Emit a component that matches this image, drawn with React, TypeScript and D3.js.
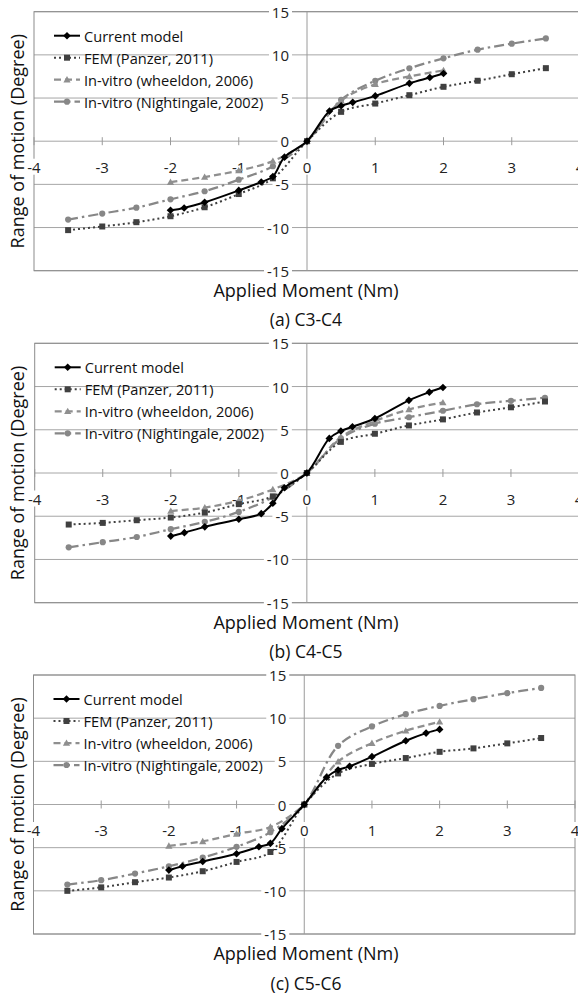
import React from "react";
import * as d3 from "d3";

// ---- data ----
const xCurrent = [-2, -1.8, -1.5, -1, -0.67, -0.5, -0.33, 0, 0.33, 0.5, 0.67, 1, 1.5, 1.8, 2];
const xFem = [-3.5, -3, -2.5, -2, -1.5, -1, -0.5, 0, 0.5, 1, 1.5, 2, 2.5, 3, 3.5];
const xWheeldon = [-2, -1.5, -1, -0.5, 0, 0.5, 1, 1.5, 2];
const xNightingale = [-3.5, -3, -2.5, -2, -1.5, -1, -0.5, 0, 0.5, 1, 1.5, 2, 2.5, 3, 3.5];

const currentA = [-8.0, -7.73, -7.08, -5.7, -4.73, -4.1, -1.85, 0, 3.5, 4.1, 4.5, 5.25, 6.7, 7.37, 7.84];
const femA = [-10.3, -9.88, -9.38, -8.69, -7.65, -6.12, -4.3, 0, 3.4, 4.36, 5.33, 6.3, 7.0, 7.76, 8.46];
const wheeldonA = [-4.75, -4.15, -3.4, -2.3, 0, 4.7, 6.6, 7.5, 8.2];
const nightingaleA = [-9.08, -8.38, -7.7, -6.73, -5.8, -4.46, -2.9, 0, 4.8, 7.0, 8.45, 9.6, 10.6, 11.3, 11.9];

const currentB = [-7.3, -6.9, -6.23, -5.35, -4.7, -3.5, -1.7, 0, 4.0, 4.85, 5.35, 6.3, 8.4, 9.35, 9.88];
const femB = [-5.96, -5.77, -5.46, -5.15, -4.58, -3.6, -2.7, 0, 3.6, 4.54, 5.5, 6.2, 7.0, 7.6, 8.27];
const wheeldonB = [-4.4, -4.0, -3.2, -1.9, 0, 4.15, 6.0, 7.35, 8.15];
const nightingaleB = [-8.6, -8.0, -7.4, -6.5, -5.65, -4.5, -2.8, 0, 4.0, 5.7, 6.45, 7.2, 7.95, 8.35, 8.7];

const currentC = [-7.6, -7.15, -6.6, -5.7, -4.9, -4.5, -2.8, 0, 3.15, 4.0, 4.42, 5.54, 7.38, 8.27, 8.7];
const femC = [-10.0, -9.6, -9.0, -8.46, -7.73, -6.65, -5.5, 0, 3.6, 4.7, 5.38, 6.1, 6.5, 7.08, 7.7];
const wheeldonC = [-4.8, -4.27, -3.4, -2.6, 0, 4.96, 7.1, 8.54, 9.58];
const nightingaleC = [-9.27, -8.77, -8.0, -7.15, -6.15, -4.9, -3.2, 0, 6.8, 9.04, 10.46, 11.42, 12.2, 12.9, 13.5];

const xTicks = [-4, -3, -2, -1, 0, 1, 2, 3, 4];
const yTicks = [15, 10, 5, 0, -5, -10, -15];
const seriesNames = [
  "Current model",
  "FEM (Panzer, 2011)",
  "In-vitro (wheeldon, 2006)",
  "In-vitro (Nightingale, 2002)",
];
const captions = ["(a) C3-C4", "(b) C4-C5", "(c) C5-C6"];
const xTitle = "Applied Moment (Nm)";
const yTitle = "Range of motion  (Degree)";

const panelData = [
  [currentA, femA, wheeldonA, nightingaleA],
  [currentB, femB, wheeldonB, nightingaleB],
  [currentC, femC, wheeldonC, nightingaleC],
];
const seriesX = [xCurrent, xFem, xWheeldon, xNightingale];

// ---- layout / style ----
const W = 578;
const H = 994;
const FONT = "'Open Sans', 'Noto Sans', sans-serif";
const panels = [
  { top: 11.7, bottom: 270.7, left: 34, right: 580 },
  { top: 343.3, bottom: 602.7, left: 34.7, right: 579 },
  { top: 675, bottom: 934, left: 33.5, right: 575 },
];
const styles = [
  { color: "#000000", width: 2, dash: "none", marker: "diamond" },
  { color: "#404040", width: 2, dash: "2,3", marker: "square" },
  { color: "#8f8f8f", width: 2.25, dash: "7,4", marker: "triangle" },
  { color: "#878787", width: 2.25, dash: "10,4,2.5,4", marker: "circle" },
];

function Marker({ type, x, y, color }: { type: string; x: number; y: number; color: string }) {
  if (type === "diamond")
    return <path d={`M${x},${y - 3.8}L${x + 3.8},${y}L${x},${y + 3.8}L${x - 3.8},${y}Z`} fill={color} />;
  if (type === "square") return <rect x={x - 3} y={y - 3} width={6} height={6} fill={color} />;
  if (type === "triangle")
    return <path d={`M${x},${y - 3.6}L${x + 3.6},${y + 2.8}L${x - 3.6},${y + 2.8}Z`} fill={color} />;
  return <circle cx={x} cy={y} r={3.1} fill={color} />;
}

function labelWidth(s: string) {
  let w = 0;
  for (const c of s) w += c === "-" ? 5 : 8.5;
  return w;
}

function Panel({ idx }: { idx: number }) {
  const p = panels[idx];
  const xs = d3.scaleLinear().domain([-4, 4]).range([p.left, p.right]);
  const ys = d3.scaleLinear().domain([-15, 15]).range([p.bottom, p.top]);
  const x0 = xs(0);
  const y0 = ys(0);
  const data = panelData[idx];
  const line = d3
    .line<[number, number]>()
    .x((d) => xs(d[0]))
    .y((d) => ys(d[1]))
    .curve(d3.curveCatmullRom.alpha(0.5));

  const legTop = p.top + 24;

  return (
    <g>
      {/* gridlines */}
      {yTicks.map((t) => (
        <line key={"g" + t} x1={p.left} x2={p.right} y1={ys(t)} y2={ys(t)} stroke="#a6a6a6" strokeWidth={1} />
      ))}
      {/* plot border */}
      <rect x={p.left} y={p.top} width={p.right - p.left} height={p.bottom - p.top} fill="none" stroke="#8c8c8c" strokeWidth={1} />
      {/* vertical axis */}
      <line x1={x0} x2={x0} y1={p.top} y2={p.bottom} stroke="#9a9a9a" strokeWidth={1} />
      {/* horizontal axis ticks */}
      {xTicks.map((t) => (
        <line key={"xt" + t} x1={xs(t)} x2={xs(t)} y1={y0 - 4} y2={y0 + 4} stroke="#9a9a9a" strokeWidth={1} />
      ))}
      {/* y tick labels */}
      {yTicks.map((t) => {
        const s = String(t);
        const w = labelWidth(s);
        const rx = x0 - 18;
        return (
          <g key={"yl" + t}>
            <rect x={rx - w - 3} y={ys(t) - 8} width={w + 6} height={16} fill="#fff" />
            <text x={rx} y={ys(t)} textAnchor="end" dominantBaseline="central" fontFamily={FONT} fontSize={15} fill="#222">
              {s}
            </text>
          </g>
        );
      })}
      {/* x tick labels */}
      {xTicks.map((t) => {
        const s = String(t);
        const w = labelWidth(s);
        return (
          <g key={"xl" + t}>
            <rect x={xs(t) - w / 2 - 2} y={y0 + 25.5 - 8} width={w + 4} height={16} fill="#fff" />
            <text x={xs(t)} y={y0 + 25.5} textAnchor="middle" dominantBaseline="central" fontFamily={FONT} fontSize={15} fill="#222">
              {s}
            </text>
          </g>
        );
      })}
      {/* series (drawn back to front) */}
      {[3, 2, 1, 0].map((si) => {
        const pts: [number, number][] = seriesX[si].map((x, i) => [x, data[si][i]]);
        const st = styles[si];
        return (
          <g key={"s" + si}>
            <path d={line(pts) || ""} fill="none" stroke={st.color} strokeWidth={st.width} strokeDasharray={st.dash} />
            {pts.map((d, i) => (
              <Marker key={i} type={st.marker} x={xs(d[0])} y={ys(d[1])} color={st.color} />
            ))}
          </g>
        );
      })}
      {/* legend */}
      {seriesNames.map((n, i) => {
        const st = styles[i];
        const ly = legTop + i * 22;
        return (
          <g key={"lg" + i}>
            <line x1={p.left + 20} x2={p.left + 46} y1={ly} y2={ly} stroke={st.color} strokeWidth={st.width} strokeDasharray={st.dash} />
            <Marker type={st.marker} x={p.left + 33} y={ly} color={st.color} />
            <text x={p.left + 50} y={ly} dominantBaseline="central" fontFamily={FONT} fontSize={14.6} fill="#111">
              {n}
            </text>
          </g>
        );
      })}
      {/* axis titles */}
      <text x={306} y={p.top + 278.3} textAnchor="middle" dominantBaseline="central" fontFamily={FONT} fontSize={18} fill="#111">
        {xTitle}
      </text>
      <text
        transform={`translate(16.6,${(p.top + p.bottom) / 2}) rotate(-90)`}
        textAnchor="middle"
        dominantBaseline="central"
        fontFamily={FONT}
        fontSize={18}
        fill="#111"
      >
        {yTitle}
      </text>
      <text x={306} y={p.top + 307.5} textAnchor="middle" dominantBaseline="central" fontFamily={FONT} fontSize={17.5} fill="#111">
        {captions[idx]}
      </text>
    </g>
  );
}

export default function App() {
  return (
    <svg
      width={W}
      height={H}
      viewBox={`0 0 ${W} ${H}`}
      style={{ position: "absolute", left: 0, top: 0, background: "#fff" }}
    >
      <rect x={0} y={0} width={W} height={H} fill="#fff" />
      {[0, 1, 2].map((i) => (
        <Panel key={i} idx={i} />
      ))}
    </svg>
  );
}
